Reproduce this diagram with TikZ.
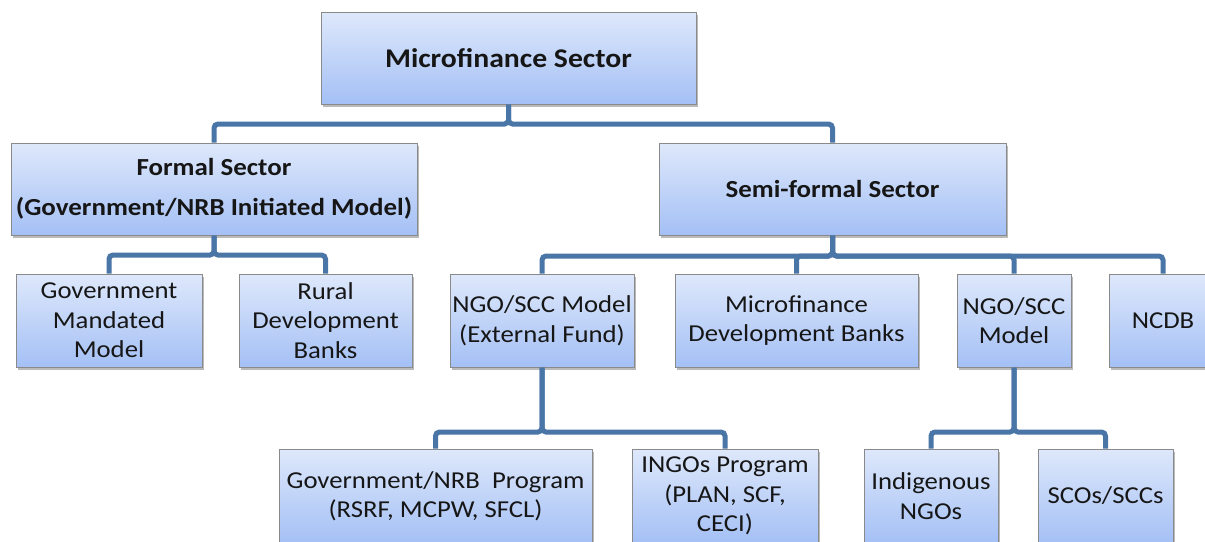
\documentclass[tikz,border=0pt]{standalone}
\usepackage{fontspec}
\setmainfont{Carlito}[FakeStretch=1.1]
\usetikzlibrary{shadows}

\definecolor{boxtop}{RGB}{222,232,251}
\definecolor{boxbot}{RGB}{164,192,245}
\definecolor{boxedge}{RGB}{138,138,138}
\definecolor{link}{RGB}{74,117,167}
\definecolor{ink}{RGB}{22,22,22}

\tikzset{
  box/.style={draw=boxedge, line width=1pt, top color=boxtop, bottom color=boxbot,
    align=center, text=ink, inner sep=2pt,
    font=\fontsize{24.3}{29.5}\selectfont,
    drop shadow={shadow xshift=1.5pt, shadow yshift=-2.5pt, opacity=0.45, fill=black!60}},
  head/.style={box, font=\fontsize{24.5}{29.5}\selectfont\bfseries},
  rootbox/.style={box, font=\fontsize{27}{32}\selectfont\bfseries},
  conn/.style={draw=link, line width=5pt, rounded corners=4pt},
}

\begin{document}
\begin{tikzpicture}[x=1pt, y=1pt]
  \useasboundingbox (0,0) rectangle (1205,-541);
  \clip (0,0) rectangle (1205,-541);
  \fill[white] (0,0) rectangle (1205,-541);

  % root
  \node[rootbox, minimum width=375pt, minimum height=92pt] (root) at (508.5,-58) {Microfinance Sector};

  % sectors
  \node[head, minimum width=406pt, minimum height=92pt] (formal) at (214,-189)
    {Formal Sector\\[11pt](Government/NRB Initiated Model)};
  \node[head, minimum width=347pt, minimum height=92pt] (semi) at (832.5,-189) {Semi-formal Sector};

  % formal sector models
  \node[box, minimum width=186pt, minimum height=93pt] (gmm) at (109,-320.5) {Government\\Mandated\\Model};
  \node[box, minimum width=173pt, minimum height=93pt] (rdb) at (325.5,-320.5) {Rural\\Development\\Banks};

  % semi-formal sector models
  \node[box, minimum width=184pt, minimum height=93pt] (ngoext) at (542,-320.5) {NGO/SCC Model\\(External Fund)};
  \node[box, minimum width=243pt, minimum height=93pt] (mdb) at (796.5,-320.5) {Microfinance\\Development Banks};
  \node[box, minimum width=114pt, minimum height=93pt] (ngo) at (1014,-320.5) {NGO/SCC\\Model};
  \node[box, minimum width=108pt, minimum height=93pt] (ncdb) at (1163,-320.5) {NCDB};

  % programmes
  \node[box, minimum width=313pt, minimum height=94pt] (gnrb) at (435.5,-496) {Government/NRB~ Program\\(RSRF, MCPW, SFCL)};
  \node[box, minimum width=186pt, minimum height=94pt] (ingo) at (725,-496) {INGOs Program\\(PLAN, SCF,\\CECI)};
  \node[box, minimum width=134pt, minimum height=94pt] (indig) at (931,-496) {Indigenous\\NGOs};
  \node[box, minimum width=135pt, minimum height=94pt] (sco) at (1105.5,-496) {SCOs/SCCs};

  % bus lines
  \coordinate (busA) at (0,-124);
  \coordinate (busB) at (0,-255);
  \coordinate (busC) at (0,-256);
  \coordinate (busD) at (0,-432);

  \draw[conn] (root.south) |- (busA -| formal.north) -- (formal.north);
  \draw[conn] (root.south) |- (busA -| semi.north) -- (semi.north);

  \draw[conn] (formal.south) |- (busB -| gmm.north) -- (gmm.north);
  \draw[conn] (formal.south) |- (busB -| rdb.north) -- (rdb.north);

  \draw[conn] (semi.south) |- (busC -| ngoext.north) -- (ngoext.north);
  \draw[conn] (semi.south) |- (busC -| mdb.north) -- (mdb.north);
  \draw[conn] (semi.south) |- (busC -| ngo.north) -- (ngo.north);
  \draw[conn] (semi.south) |- (busC -| ncdb.north) -- (ncdb.north);

  \draw[conn] (ngoext.south) |- (busD -| gnrb.north) -- (gnrb.north);
  \draw[conn] (ngoext.south) |- (busD -| ingo.north) -- (ingo.north);

  \draw[conn] (ngo.south) |- (busD -| indig.north) -- (indig.north);
  \draw[conn] (ngo.south) |- (busD -| sco.north) -- (sco.north);
\end{tikzpicture}
\end{document}
